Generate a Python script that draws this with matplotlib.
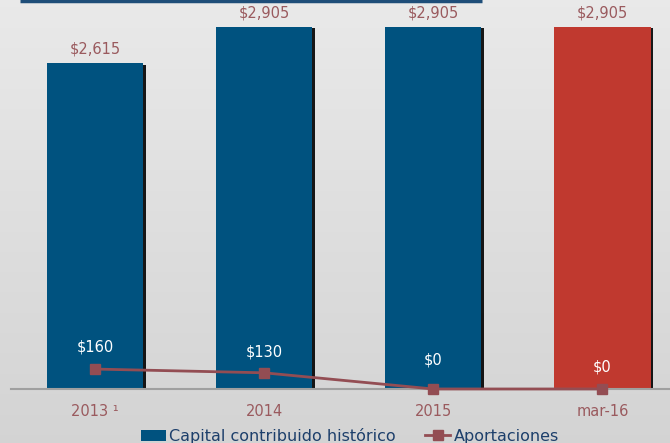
import numpy as np
import matplotlib.pyplot as plt
import matplotlib.patheffects as pe
from matplotlib.lines import Line2D
from matplotlib.patches import Patch

plt.rcParams['font.family'] = ['DejaVu Sans']

categories = ["2013 ¹", "2014", "2015", "mar-16"]
capital = [2615, 2905, 2905, 2905]
aportaciones = [160, 130, 0, 0]
bar_labels = ["$2,615", "$2,905", "$2,905", "$2,905"]
line_labels = ["$160", "$130", "$0", "$0"]

blue = "#00527f"
red = "#c0392f"
line_col = "#934d53"
label_col = "#9a5a5e"
legend_col = "#1d3f6b"

fig = plt.figure(figsize=(6.7, 4.43), dpi=100)

# background gradient
bg = fig.add_axes([0, 0, 1, 1], zorder=-10)
grad = np.linspace(0.915, 0.83, 256).reshape(-1, 1)
bg.imshow(np.dstack([grad, grad, grad]), aspect="auto", extent=[0, 1, 0, 1])
bg.axis("off")
bg.plot([20 / 670, 482 / 670], [0.997, 0.997], color="#1f4e79", lw=2.5,
        transform=bg.transAxes, solid_capstyle="butt")

ax = fig.add_axes([11 / 670, (443 - 389) / 443, 659 / 670, 389 / 443])
ax.patch.set_alpha(0)
x = np.arange(len(categories))
colors = [blue, blue, blue, red]
bars = ax.bar(x, capital, width=0.57, color=colors, zorder=2,
              path_effects=[pe.SimplePatchShadow(offset=(2, -1), shadow_rgbFace="black", alpha=0.9),
                            pe.Normal()])

ax.set_xlim(-0.497, 3.4)
ax.set_ylim(0, 3122)

for xi, v, lab in zip(x, capital, bar_labels):
    ax.annotate(lab, (xi, v), xytext=(0, 5), textcoords="offset points",
                ha="center", va="bottom", color=label_col, fontsize=10.5)

ax.plot(x, aportaciones, color=line_col, lw=2, marker="s", markersize=7,
        zorder=3, clip_on=False)

offsets = [16, 15, 21, 16]
for xi, v, lab, off in zip(x, aportaciones, line_labels, offsets):
    ax.annotate(lab, (xi, v), xytext=(0, off), textcoords="offset points",
                ha="center", va="center", color="white", fontsize=10.5, zorder=4)

for s in ["top", "right", "left"]:
    ax.spines[s].set_visible(False)
ax.spines["bottom"].set_color("#a0a0a0")
ax.spines["bottom"].set_linewidth(1.5)
ax.set_yticks([])
ax.set_xticks(x)
ax.set_xticklabels(categories, color=label_col, fontsize=10.5)
ax.tick_params(axis="x", length=0, pad=11)

handles = [Patch(facecolor=blue, edgecolor="none"),
           Line2D([0], [0], color=line_col, lw=2, marker="s", markersize=7)]
leg = fig.legend(handles, ["Capital contribuido histórico", "Aportaciones"],
                 loc="center", bbox_to_anchor=(0.522, 0.016), ncol=2, frameon=False,
                 fontsize=11.5, handlelength=1.6, handletextpad=0.2, columnspacing=1.8,
                 borderaxespad=0)
for t in leg.get_texts():
    t.set_color(legend_col)

fig.savefig("out.png", dpi=100)
